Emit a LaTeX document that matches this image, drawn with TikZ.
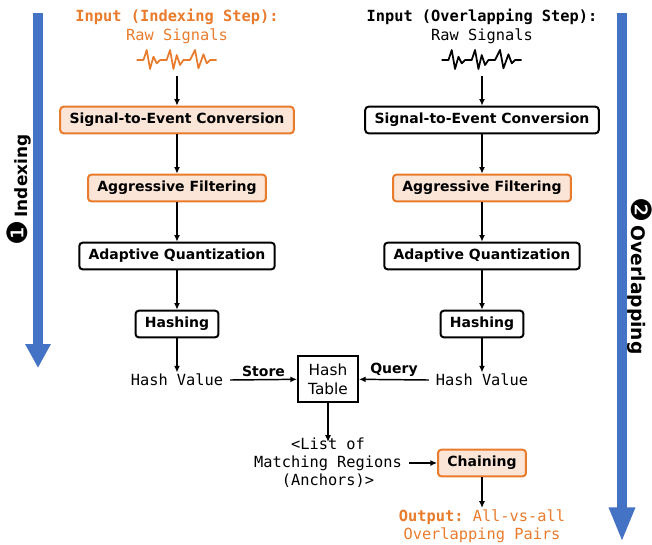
\documentclass[tikz,border=0pt]{standalone}
\usepackage{fontspec}
\setmainfont{DejaVu Sans}
\setsansfont{DejaVu Sans}
\setmonofont{DejaVu Sans Mono}
\usetikzlibrary{arrows.meta}
\definecolor{ordark}{HTML}{E97B2C}
\definecolor{orlight}{HTML}{FBE5D6}
\definecolor{flowblue}{HTML}{4472C4}
\tikzset{
  stepbox/.style={draw,rounded corners=2.5pt,line width=1.5pt,fill=white,
    font=\sffamily\bfseries\fontsize{10.5}{12}\selectfont,inner xsep=7pt,minimum height=20pt},
  hotbox/.style={stepbox,draw=ordark,fill=orlight},
  plain/.style={font=\ttfamily\fontsize{11.5}{13.5}\selectfont,align=center,inner sep=1pt},
  tag/.style={font=\sffamily\bfseries\fontsize{10.5}{12}\selectfont,inner sep=2pt},
  flow/.style={-{Latex[length=5pt,width=4.5pt]},line width=1.1pt},
  phase/.style={line width=7.5pt,draw=flowblue,-{Triangle[width=18pt,length=#1]}},
  sigspot/.style={minimum width=60pt,minimum height=24pt,inner sep=0pt},
  rawsig/.pic={\draw[line width=1.3pt,line join=round,pic actions] (0,0) -- (6.7,0) -- (10,-10)
    -- (13.3,9) -- (16.7,-3.3) -- (20,3.3) -- (23.3,0) -- (30,0) -- (33.3,-10) -- (36.7,9)
    -- (40,-5) -- (43.3,5) -- (46.7,0) -- (53.3,0) -- (58.3,-10) -- (61.7,8.3) -- (66.7,-5.7)
    -- (70,3.3) -- (73.3,0) -- (80,0);}
}
\begin{document}
\begin{tikzpicture}[x=0.75pt,y=-0.75pt]
\useasboundingbox (0,0) rectangle (652,544);

% phase arrows
\coordinate (idxTop) at (38,13); \coordinate (idxEnd) at (38,368);
\coordinate (ovlTop) at (622,13); \coordinate (ovlEnd) at (622,542);
\draw[phase=18pt] (idxTop) -- (idxEnd);
\draw[phase=26pt] (ovlTop) -- (ovlEnd);
\node[rotate=90,font=\sffamily\bfseries\fontsize{12.7}{14}\selectfont] (idxLab) at (19,190)
  {{\mdseries\fontsize{21}{16}\selectfont ❶}\,Indexing};
\node[rotate=-90,font=\sffamily\bfseries\fontsize{14}{16}\selectfont] (ovlLab) at (640,276)
  {{\mdseries\fontsize{21}{16}\selectfont ❷}\,Overlapping};

% indexing step
\node[plain,text=ordark,font=\ttfamily\bfseries\fontsize{11.5}{13.5}\selectfont] (inL) at (177,17) {Input (Indexing Step):};
\node[plain,text=ordark] (rawL) at (177,36) {Raw Signals};
\node[sigspot] (sigL) at (177,60) {};
\pic[ordark] at (sigL.west) {rawsig};
\node[hotbox] (convL) at (177,120) {Signal-to-Event Conversion};
\node[hotbox] (filtL) at (177,188) {Aggressive Filtering};
\node[stepbox] (quantL) at (177,256) {Adaptive Quantization};
\node[stepbox] (hashL) at (177,324) {Hashing};
\node[plain] (valL) at (177,380) {Hash Value};

% overlapping step
\node[plain,font=\ttfamily\bfseries\fontsize{11.5}{13.5}\selectfont] (inR) at (482,17) {Input (Overlapping Step):};
\node[plain] (rawR) at (482,36) {Raw Signals};
\node[sigspot] (sigR) at (482,60) {};
\pic[black] at (sigR.west) {rawsig};
\node[stepbox] (convR) at (482,120) {Signal-to-Event Conversion};
\node[hotbox] (filtR) at (482,188) {Aggressive Filtering};
\node[stepbox] (quantR) at (482,256) {Adaptive Quantization};
\node[stepbox] (hashR) at (482,324) {Hashing};
\node[plain] (valR) at (482,380) {Hash Value};

% shared part
\node[draw,line width=1.5pt,align=center,minimum width=45pt,minimum height=35pt,inner sep=1pt,
  font=\sffamily\fontsize{11.5}{14}\selectfont] (table) at (328,379) {Hash\\Table};
\node[plain] (list) at (328,463) {<List of\\Matching Regions\\(Anchors)>};
\node[hotbox] (chain) at (482,463) {Chaining};
\node[plain,text=ordark] (out) at (482,526) {\textbf{Output:} All-vs-all\\Overlapping Pairs};

\path[flow] (sigL) edge (convL) (convL) edge (filtL) (filtL) edge (quantL)
  (quantL) edge (hashL) (hashL) edge (valL)
  (sigR) edge (convR) (convR) edge (filtR) (filtR) edge (quantR)
  (quantR) edge (hashR) (hashR) edge (valR)
  ([xshift=4pt]valL.east) edge node[tag,above] {Store} (table)
  ([xshift=-4pt]valR.west) edge node[tag,above] {Query} (table)
  (table) edge ([yshift=-4pt]list.north) ([xshift=4pt]list.east) edge (chain) (chain) edge (out);
\end{tikzpicture}
\end{document}
